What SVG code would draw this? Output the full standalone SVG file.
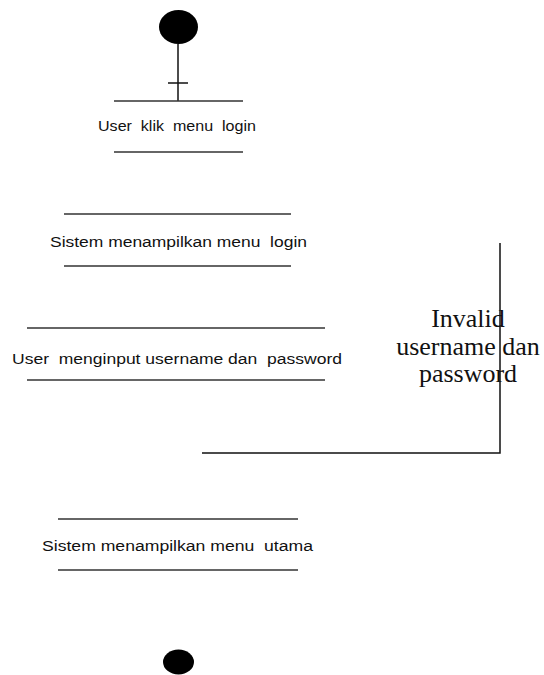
<svg xmlns="http://www.w3.org/2000/svg" width="544" height="675" viewBox="0 0 544 675" xml:space="preserve">
<style>
.bg{fill:#ffffff}
.sep{stroke:#333;stroke-width:1.3;fill:none}
.con{stroke:#111;stroke-width:1.5;fill:none}
.dot{fill:#000}
.lbl{font-family:"Liberation Sans",Arial,sans-serif;font-size:15.5px;fill:#111;white-space:pre}
.guard{font-family:"Liberation Serif","Times New Roman",serif;font-size:26px;fill:#111;text-anchor:middle}
</style>
<rect class="bg" x="0" y="0" width="544" height="675"/>
<g id="connectors">
<line class="con" x1="178" y1="44" x2="178" y2="101"/>
<line class="con" x1="168" y1="83" x2="188" y2="83"/>
<polyline class="con" points="500,243 500,453 202,453"/>
</g>
<g id="start">
<ellipse class="dot" cx="178.5" cy="27" rx="19.5" ry="17"/>
</g>
<g id="user-klik-menu-login">
<line class="sep" x1="114" y1="101" x2="243" y2="101"/>
<text class="lbl" x="98" y="131" textLength="158" lengthAdjust="spacingAndGlyphs">User  klik  menu  login</text>
<line class="sep" x1="114" y1="152" x2="243" y2="152"/>
</g>
<g id="sistem-menampilkan-menu-login">
<line class="sep" x1="64" y1="214" x2="291" y2="214"/>
<text class="lbl" x="50" y="246.5" textLength="257" lengthAdjust="spacingAndGlyphs">Sistem menampilkan menu  login</text>
<line class="sep" x1="64" y1="266" x2="291" y2="266"/>
</g>
<g id="user-menginput">
<line class="sep" x1="27" y1="328" x2="325" y2="328"/>
<text class="lbl" x="12" y="363.5" textLength="330" lengthAdjust="spacingAndGlyphs">User  menginput username dan  password</text>
<line class="sep" x1="27" y1="380" x2="325" y2="380"/>
</g>
<g id="guard-label">
<text class="guard" x="468" y="327">Invalid</text>
<text class="guard" x="468" y="355">username dan</text>
<text class="guard" x="468" y="382">password</text>
</g>
<g id="sistem-menampilkan-menu-utama">
<line class="sep" x1="58" y1="519" x2="298" y2="519"/>
<text class="lbl" x="42" y="550.5" textLength="271" lengthAdjust="spacingAndGlyphs">Sistem menampilkan menu  utama</text>
<line class="sep" x1="58" y1="570" x2="298" y2="570"/>
</g>
<g id="end">
<ellipse class="dot" cx="178.5" cy="662" rx="15.5" ry="12.5"/>
</g>
</svg>
